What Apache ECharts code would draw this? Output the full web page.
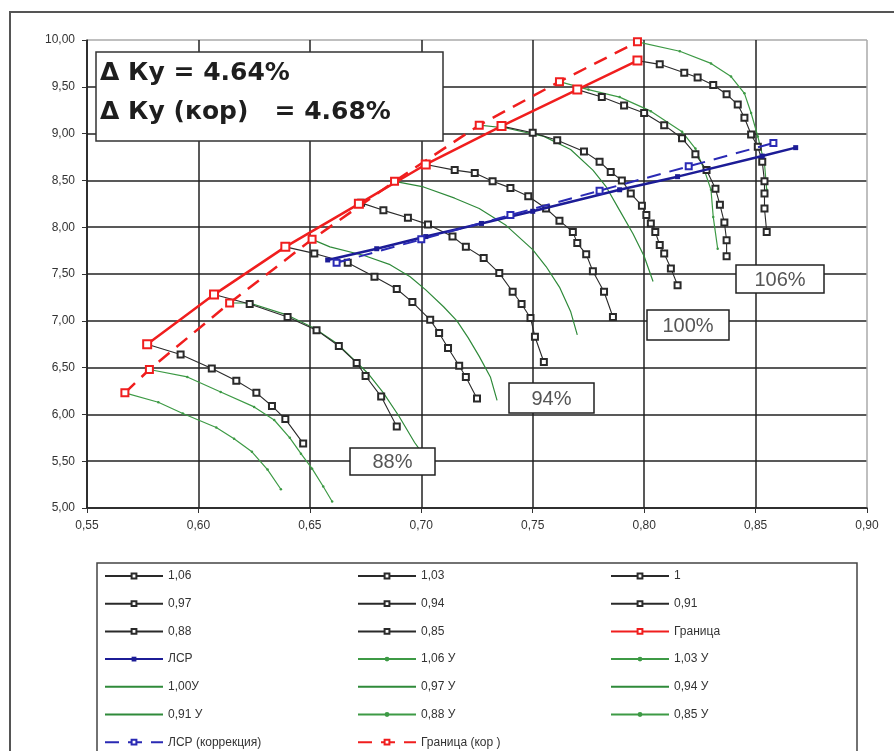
<!DOCTYPE html>
<html>
<head>
<meta charset="utf-8">
<script src="https://cdn.jsdelivr.net/npm/echarts@6/dist/echarts.min.js"></script>
<style>
html,body{margin:0;padding:0;background:#fff;}
#chart{width:894px;height:751px;}
</style>
</head>
<body>
<div id="chart"></div>
<script>
// ---- axis ranges / ticks ----
const xMin = 0.55, xMax = 0.90, xStep = 0.05;
const yMin = 5.00, yMax = 10.00, yStep = 0.50;

// ---- black characteristic curves [x, y] ----
const c106 = [[0.797,9.78],[0.807,9.74],[0.818,9.65],[0.824,9.60],[0.831,9.52],[0.837,9.42],[0.842,9.31],[0.845,9.17],[0.848,8.99],[0.851,8.86],[0.853,8.70],[0.854,8.49],[0.854,8.36],[0.854,8.20],[0.855,7.95]];
const c103 = [[0.770,9.47],[0.781,9.39],[0.791,9.30],[0.800,9.22],[0.809,9.09],[0.817,8.95],[0.823,8.78],[0.828,8.61],[0.832,8.41],[0.834,8.24],[0.836,8.05],[0.837,7.86],[0.837,7.69]];
const c100 = [[0.736,9.08],[0.750,9.01],[0.761,8.93],[0.773,8.81],[0.780,8.70],[0.785,8.59],[0.790,8.50],[0.794,8.36],[0.799,8.23],[0.801,8.13],[0.803,8.04],[0.805,7.95],[0.807,7.81],[0.809,7.72],[0.812,7.56],[0.815,7.38]];
const c097 = [[0.702,8.67],[0.715,8.61],[0.724,8.58],[0.732,8.49],[0.740,8.42],[0.748,8.33],[0.756,8.20],[0.762,8.07],[0.768,7.95],[0.770,7.83],[0.774,7.71],[0.777,7.53],[0.782,7.31],[0.786,7.04]];
const c094 = [[0.673,8.26],[0.683,8.18],[0.694,8.10],[0.703,8.03],[0.714,7.90],[0.720,7.79],[0.728,7.67],[0.735,7.51],[0.741,7.31],[0.745,7.18],[0.749,7.03],[0.751,6.83],[0.755,6.56]];
const c091 = [[0.639,7.79],[0.652,7.72],[0.667,7.62],[0.679,7.47],[0.689,7.34],[0.696,7.20],[0.704,7.01],[0.708,6.87],[0.712,6.71],[0.717,6.52],[0.720,6.40],[0.725,6.17]];
const c088 = [[0.607,7.28],[0.623,7.18],[0.640,7.04],[0.653,6.90],[0.663,6.73],[0.671,6.55],[0.675,6.41],[0.682,6.19],[0.689,5.87]];
const c085 = [[0.577,6.75],[0.592,6.64],[0.606,6.49],[0.617,6.36],[0.626,6.23],[0.633,6.09],[0.639,5.95],[0.647,5.69]];

// ---- green "У" curves [x, y] ----
const g106 = [[0.797,9.98],[0.816,9.88],[0.830,9.75],[0.839,9.61],[0.845,9.43],[0.848,9.22],[0.851,8.97],[0.854,8.68],[0.855,8.40]];
const g103 = [[0.762,9.555],[0.775,9.47],[0.789,9.39],[0.803,9.24],[0.817,9.02],[0.823,8.84],[0.827,8.61],[0.830,8.40],[0.831,8.11],[0.833,7.77]];
const g100 = [[0.726,9.09],[0.738,9.06],[0.755,8.97],[0.767,8.83],[0.777,8.61],[0.783,8.43],[0.789,8.18],[0.795,7.93],[0.800,7.69],[0.804,7.42]];
const g097 = [[0.688,8.49],[0.701,8.43],[0.715,8.31],[0.726,8.20],[0.738,8.02],[0.750,7.76],[0.756,7.58],[0.762,7.36],[0.767,7.10],[0.770,6.85]];
const g094 = [[0.651,7.87],[0.659,7.79],[0.674,7.70],[0.686,7.60],[0.695,7.47],[0.702,7.33],[0.710,7.15],[0.716,7.00],[0.721,6.82],[0.726,6.62],[0.731,6.40],[0.734,6.15]];
const g091 = [[0.614,7.19],[0.623,7.19],[0.640,7.06],[0.652,6.92],[0.662,6.76],[0.670,6.58],[0.676,6.44],[0.683,6.23],[0.690,5.98],[0.697,5.70],[0.700,5.60]];
const g088 = [[0.578,6.48],[0.595,6.40],[0.610,6.24],[0.625,6.08],[0.634,5.94],[0.641,5.75],[0.646,5.58],[0.651,5.42],[0.656,5.23],[0.660,5.07]];
const g085 = [[0.567,6.23],[0.582,6.13],[0.593,6.01],[0.608,5.86],[0.616,5.74],[0.624,5.60],[0.631,5.41],[0.637,5.20]];

// ---- boundaries and operating lines ----
const granica    = [[0.577,6.75],[0.607,7.28],[0.639,7.79],[0.672,8.25],[0.702,8.67],[0.736,9.08],[0.770,9.47],[0.797,9.78]];
const granicaKor = [[0.567,6.23],[0.578,6.48],[0.614,7.19],[0.651,7.87],[0.688,8.49],[0.726,9.09],[0.762,9.555],[0.797,9.98]];
const lsr        = [[0.658,7.65],[0.680,7.77],[0.702,7.90],[0.727,8.04],[0.750,8.17],[0.789,8.40],[0.815,8.54],[0.853,8.76],[0.868,8.85]];
const lsrKor     = [[0.662,7.62],[0.700,7.87],[0.740,8.13],[0.780,8.39],[0.820,8.65],[0.858,8.90]];

// ---- annotation texts ----
const boxLines = ['Δ Ку = 4.64%', 'Δ Ку (кор)   = 4.68%'];
const pctLabels = ['88%', '94%', '100%', '106%'];

// ---- legend columns ----
const legendCol1 = ['1,06','0,97','0,88','ЛСР','1,00У','0,91 У','ЛСР (коррекция)'];
const legendCol2 = ['1,03','0,94','0,85','1,06 У','0,97 У','0,88 У','Граница (кор )'];
const legendCol3 = ['1','0,91','Граница','1,03 У','0,94 У','0,85 У'];
const noDotNames = ['1,00У','0,97 У','0,94 У','0,91 У'];

const FONT = 'Liberation Sans, Arial, sans-serif';
const BLACK = '#2a2a2a', GREEN = '#3d9a45', GREEN2 = '#2f8a3a', RED = '#f01e1e', BLUE = '#1c1c96';

function blackSeries(name, data){
  return {name, type:'line', data, z:3, color:BLACK, symbol:'emptyRect', symbolSize:6,
    lineStyle:{width:1.1,color:BLACK}, itemStyle:{color:BLACK,borderWidth:1.1}};
}
function greenSeries(name, data, dots){
  const col = dots ? GREEN : GREEN2;
  return {name, type:'line', data, z:2, color:col, symbol: dots ? 'circle' : 'none', symbolSize:2.5,
    lineStyle:{width:1.2,color:col}, itemStyle:{color:col}};
}

const series = [
  blackSeries('1,06', c106), blackSeries('1,03', c103), blackSeries('1', c100),
  blackSeries('0,97', c097), blackSeries('0,94', c094), blackSeries('0,91', c091),
  blackSeries('0,88', c088), blackSeries('0,85', c085),
  {name:'Граница', type:'line', data:granica, z:5, color:RED, symbol:'emptyRect', symbolSize:8,
    lineStyle:{width:2.5,color:RED}, itemStyle:{color:RED,borderWidth:1.2}},
  {name:'ЛСР', type:'line', data:lsr, z:6, color:BLUE, symbol:'rect', symbolSize:5,
    lineStyle:{width:2.5,color:BLUE}, itemStyle:{color:BLUE}},
  greenSeries('1,06 У', g106, true), greenSeries('1,03 У', g103, true), greenSeries('1,00У', g100, false),
  greenSeries('0,97 У', g097, false), greenSeries('0,94 У', g094, false), greenSeries('0,91 У', g091, false),
  greenSeries('0,88 У', g088, true), greenSeries('0,85 У', g085, true),
  {name:'ЛСР (коррекция)', type:'line', data:lsrKor, z:6, color:'#2a2ab4', symbol:'emptyRect', symbolSize:6,
    lineStyle:{width:2,color:'#2a2ab4',type:[14,9]}, itemStyle:{color:'#2a2ab4',borderWidth:1}},
  {name:'Граница (кор )', type:'line', data:granicaKor, z:5, color:RED, symbol:'emptyRect', symbolSize:7,
    lineStyle:{width:2.5,color:RED,type:[14,9]}, itemStyle:{color:RED,borderWidth:1}}
];

function legendCol(names, left){
  const data = names.map(n => noDotNames.indexOf(n) >= 0 ? {name:n, itemStyle:{opacity:0}} : n);
  return {data, orient:'vertical', left, top:569, height:200, padding:0,
    itemWidth:58, itemHeight:6, itemGap:13.7, selectedMode:false,
    textStyle:{fontFamily:FONT, fontSize:12, color:'#333', lineHeight:14, height:14}};
}

const ySplitColors = []; for (let i=0;i<10;i++) ySplitColors.push('#222'); ySplitColors.push('#aaa');
const xSplitColors = []; for (let i=0;i<7;i++) xSplitColors.push('#222'); xSplitColors.push('#aaa');

const pctBoxes = [
  {t:pctLabels[0], x:350, y:448, w:85, h:27},
  {t:pctLabels[1], x:509, y:383, w:85, h:30},
  {t:pctLabels[2], x:647, y:310, w:82, h:30},
  {t:pctLabels[3], x:736, y:265, w:88, h:28}
];

const BOXFONT = 'DejaVu Sans, Verdana, sans-serif';
const graphic = [
  {type:'rect', shape:{x:10,y:12,width:900,height:760}, style:{fill:'none',stroke:'#555',lineWidth:2}, z:0, silent:true},
  {type:'rect', shape:{x:97,y:563,width:760,height:200}, style:{fill:'none',stroke:'#444',lineWidth:1.5}, z:10, silent:true},
  {type:'rect', shape:{x:96,y:52,width:347,height:89}, style:{fill:'#fff',stroke:'#333',lineWidth:1.5}, z:20, silent:true},
  {type:'text', left:100, top:61, z:21, silent:true, style:{text:boxLines[0], font:'bold 25px '+BOXFONT, fill:'#1e1e1e'}},
  {type:'text', left:100, top:100, z:21, silent:true, style:{text:boxLines[1], font:'bold 25px '+BOXFONT, fill:'#1e1e1e'}}
];
pctBoxes.forEach(b => {
  graphic.push({type:'rect', shape:{x:b.x,y:b.y,width:b.w,height:b.h}, style:{fill:'#fff',stroke:'#222',lineWidth:1.5}, z:20, silent:true});
  graphic.push({type:'text', x:b.x+b.w/2, y:b.y+b.h/2+1, z:21, silent:true,
    style:{text:b.t, font:'20px '+FONT, fill:'#555', align:'center', verticalAlign:'middle'}});
});

const chart = echarts.init(document.getElementById('chart'), null, {renderer:'canvas'});
chart.setOption({
  animation:false,
  backgroundColor:'#fff',
  grid:{left:87, right:27, top:40, bottom:243, containLabel:false},
  xAxis:{type:'value', min:xMin, max:xMax, interval:xStep,
    axisLine:{show:true, lineStyle:{color:'#222', width:1.5}},
    axisTick:{show:true, length:5, lineStyle:{color:'#333'}},
    axisLabel:{margin:12, color:'#333', fontFamily:FONT, fontSize:12,
      formatter:v => v.toFixed(2).replace('.', ',')},
    splitLine:{show:true, lineStyle:{color:xSplitColors, width:1.5}}},
  yAxis:{type:'value', min:yMin, max:yMax, interval:yStep,
    axisLine:{show:true, lineStyle:{color:'#222', width:1.5}},
    axisTick:{show:true, length:5, lineStyle:{color:'#333'}},
    axisLabel:{margin:12, color:'#333', fontFamily:FONT, fontSize:12,
      formatter:v => v.toFixed(2).replace('.', ',')},
    splitLine:{show:true, lineStyle:{color:ySplitColors, width:1.5}}},
  legend:[legendCol(legendCol1,104), legendCol(legendCol2,357), legendCol(legendCol3,610)],
  graphic,
  series
});
</script>
</body>
</html>
